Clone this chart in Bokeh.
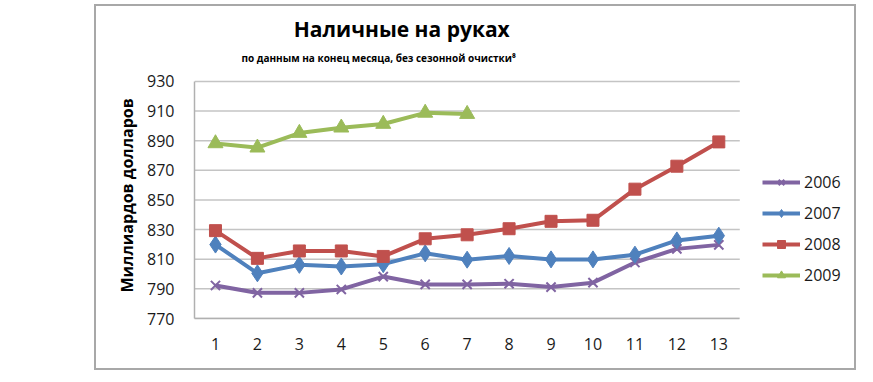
from bokeh.plotting import figure
from bokeh.models import FixedTicker, Legend, LegendItem, Label, Title
from bokeh.embed import file_html
from bokeh.resources import INLINE

months = list(range(1, 14))
y2006 = [792.3, 787.3, 787.3, 789.6, 798.3, 793.0, 793.0, 793.5, 791.2, 794.2, 807.8, 817.0, 819.7]
y2007 = [819.9, 800.5, 806.2, 805.1, 806.7, 814.0, 809.7, 812.2, 809.9, 809.9, 813.1, 822.7, 825.9]
y2008 = [829.3, 810.6, 815.6, 815.6, 811.9, 823.8, 826.5, 830.6, 835.6, 836.3, 857.3, 872.8, 889.2]
months_2009 = list(range(1, 8))
y2009 = [888.2, 885.3, 895.2, 898.8, 901.3, 908.8, 908.0]
y_ticks = [770, 790, 810, 830, 850, 870, 890, 910, 930]
title_text = "Наличные на руках"
subtitle_text = "по данным на конец месяца, без сезонной очистки⁸"
y_label = "Миллиардов долларов"

FONT = "Open Sans"

# layout geometry (pixels) of the chart box and plot area
CANVAS_L, CANVAS_T, CANVAS_R, CANVAS_B = 96, 6, 854, 368
AREA_L, AREA_R, AREA_T, AREA_B = 194, 736, 80, 314
X0, X1 = 0.5, 13.5
Y0, Y1 = 770, 930
px_x = (AREA_R - AREA_L) / (X1 - X0)
px_y = (AREA_B - AREA_T) / (Y1 - Y0)
x_end = X1 + (CANVAS_R - AREA_R) / px_x
y_top = Y1 + (AREA_T - CANVAS_T) / px_y

p = figure(width=CANVAS_R - CANVAS_L, height=CANVAS_B - CANVAS_T,
           output_backend="svg", toolbar_location=None,
           x_range=(X0, x_end), y_range=(Y0, y_top),
           min_border_left=AREA_L - CANVAS_L, min_border_right=0,
           min_border_top=0, min_border_bottom=CANVAS_B - AREA_B)
p.margin = (CANVAS_T - 2, 0, 0, CANVAS_L - 2)
p.styles = {"border": "2px solid #a8a8a8", "box-sizing": "content-box"}
p.outline_line_color = None
p.background_fill_color = "white"
p.border_fill_color = "white"

p.xgrid.visible = False
p.ygrid.visible = False
p.segment(x0=X0, x1=X1, y0=y_ticks, y1=y_ticks, line_color="#c4c4c4", line_width=1.5)

p.xaxis.ticker = FixedTicker(ticks=months)
p.yaxis.ticker = FixedTicker(ticks=y_ticks)
p.xaxis.bounds = (X0, X1)
p.yaxis.bounds = (Y0, Y1)
for ax in (p.xaxis, p.yaxis):
    ax.major_tick_line_color = None
    ax.minor_tick_line_color = None
    ax.axis_line_color = "#b0b0b0"
    ax.axis_line_width = 1.5
    ax.major_label_text_font = FONT
    ax.major_label_text_font_size = "16px"
    ax.major_label_text_color = "#1a1a1a"
p.xaxis.major_label_standoff = 13
p.yaxis.major_label_standoff = 14

# rotated y-axis caption beside the axis
p.add_layout(Title(text=y_label, text_font=FONT, text_font_size="16px",
                   text_font_style="bold", text_color="#000000",
                   align="left", offset=26, standoff=14), "left")

series = [
    ("2006", months, y2006, "#8064A2", "x"),
    ("2007", months, y2007, "#4F81BD", "diamond"),
    ("2008", months, y2008, "#C0504D", "square"),
    ("2009", months_2009, y2009, "#9BBB59", "triangle"),
]
sizes = {"x": 13, "diamond": 17, "square": 12, "triangle": 15}
items = []
for name, xs, ys, col, mk in series:
    r1 = p.line(xs, ys, line_color=col, line_width=4)
    if mk == "x":
        r2 = p.scatter(xs, ys, marker="x", size=sizes[mk], line_color=col, line_width=2)
    else:
        r2 = p.scatter(xs, ys, marker=mk, size=sizes[mk], fill_color=col, line_color=col)
    items.append(LegendItem(label=name, renderers=[r1, r2]))

legend = Legend(items=items, location=(762 - AREA_L, 32))
legend.border_line_color = None
legend.background_fill_alpha = 0
legend.label_text_font = FONT
legend.label_text_font_size = "16px"
legend.label_text_color = "#1a1a1a"
legend.glyph_width = 38
legend.glyph_height = 20
legend.spacing = 9
legend.padding = 5
legend.margin = 0
legend.label_standoff = 4
p.add_layout(legend, "center")

def to_x(px):
    return X0 + (px - AREA_L) / px_x

def to_y(py):
    return Y1 + (AREA_T - py) / px_y

p.add_layout(Label(x=to_x(400), y=to_y(28), text=title_text,
                   text_font=FONT, text_font_size="21px", text_font_style="bold",
                   text_align="center", text_baseline="middle", text_color="#000000"))
p.add_layout(Label(x=to_x(377), y=to_y(57), text=subtitle_text,
                   text_font=FONT, text_font_size="10px", text_font_style="bold",
                   text_align="center", text_baseline="middle", text_color="#000000"))

open("out.html", "w").write(file_html(p, INLINE))
